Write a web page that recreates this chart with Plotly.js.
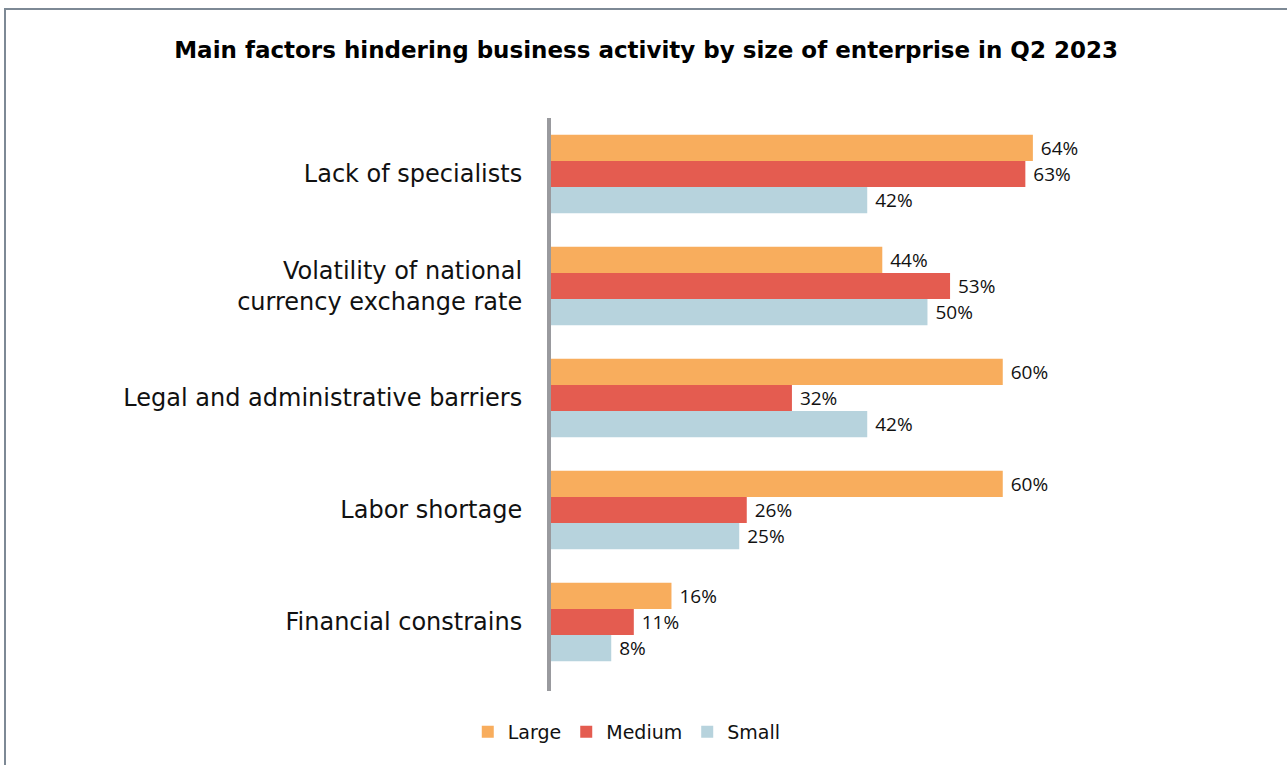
<!DOCTYPE html>
<html>
<head>
<meta charset="utf-8">
<script src="https://cdn.plot.ly/plotly-3.0.1.min.js"></script>
<style>
html,body{margin:0;padding:0;background:#fff;}
#wrap{position:relative;width:1287px;height:765px;overflow:hidden;}
#chart{position:absolute;left:0;top:0;width:1287px;height:765px;}
#frame{position:absolute;left:4px;top:8px;width:1400px;height:900px;border-top:2px solid #7d8995;border-left:2px solid #7d8995;pointer-events:none;}
</style>
</head>
<body>
<div id="wrap"><div id="chart"></div><div id="frame"></div></div>
<script>
const categories = [
  "Lack of specialists",
  "Volatility of national<br>currency exchange rate",
  "Legal and administrative barriers",
  "Labor shortage",
  "Financial constrains"
];
const seriesNames = ["Large", "Medium", "Small"];
const large = [64, 44, 60, 60, 16];
const medium = [63, 53, 32, 26, 11];
const small = [42, 50, 42, 25, 8];
const colors = ["#F8AD5D", "#E45C50", "#B7D3DD"];

const values = [large, medium, small];
const traces = values.map((v, i) => ({
  type: 'bar',
  orientation: 'h',
  name: seriesNames[i],
  x: v,
  y: categories,
  marker: {color: colors[i]},
  texttemplate: '\u00a0%{x}%',
  textposition: 'outside',
  cliponaxis: false,
  constraintext: 'none',
  textfont: {family: 'Open Sans, sans-serif', size: 19, color: '#111'},
  hoverinfo: 'x+y'
}));

const layout = {
  width: 1287,
  height: 765,
  paper_bgcolor: '#fff',
  plot_bgcolor: '#fff',
  margin: {l: 551, r: 96, t: 118, b: 74, pad: 0},
  barmode: 'group',
  bargap: 0.30,
  bargroupgap: 0,
  title: {
    text: '<b>Main factors hindering business activity by size of enterprise in Q2 2023</b>',
    font: {family: 'DejaVu Sans, sans-serif', size: 23, color: '#000'},
    x: 0.502, xref: 'container', xanchor: 'center',
    y: 1 - 50/765, yref: 'container', yanchor: 'middle'
  },
  xaxis: {
    range: [0, 85],
    showgrid: false, zeroline: false, showticklabels: false, ticks: '',
    showline: false, fixedrange: true
  },
  yaxis: {
    type: 'category',
    range: [4.616, -0.5],
    showgrid: false, zeroline: false, ticks: '',
    showline: true, linecolor: '#999a9e', linewidth: 4,
    ticklabelstandoff: 20,
    tickfont: {family: 'DejaVu Sans, sans-serif', size: 24, color: '#111'},
    fixedrange: true
  },
  showlegend: true,
  legend: {
    orientation: 'h',
    xref: 'container', yref: 'container',
    x: 0.487, xanchor: 'center',
    y: 1 - 732/765, yanchor: 'middle',
    font: {family: 'DejaVu Sans, sans-serif', size: 19, color: '#111'},
    itemwidth: 30,
    traceorder: 'normal'
  }
};

Plotly.newPlot('chart', traces, layout, {displayModeBar: false, staticPlot: true});
</script>
</body>
</html>
